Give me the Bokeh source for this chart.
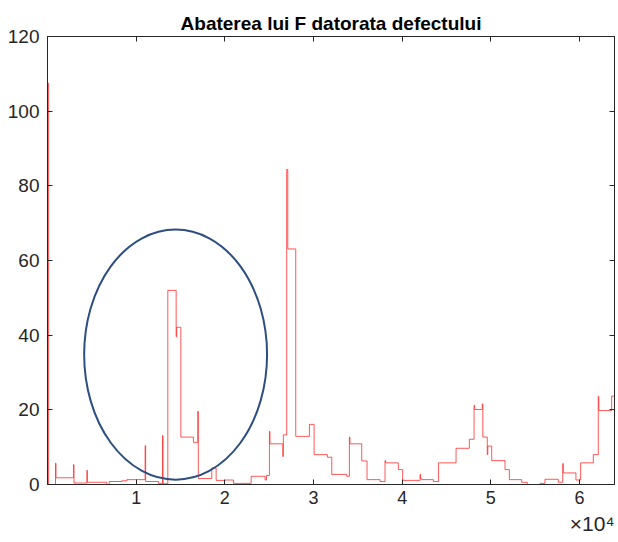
from bokeh.plotting import figure
from bokeh.models import Range1d, FixedTicker, LinearAxis, Title
from bokeh.embed import file_html
from bokeh.resources import INLINE

# step breakpoints (sample index) and value held from each breakpoint
x_breaks = [0, 120, 900, 960, 2930, 2990, 4440, 4500, 6700, 6960, 8390, 8950,
            11010, 11070, 12510, 12970, 13030, 13570, 14510, 14570, 15040, 16460,
            16950, 17010, 18530, 19020, 20060, 20970, 22970, 24540, 24700, 25030,
            25090, 26540, 26600, 26980, 27100, 28000, 29540, 30070, 31570, 32060,
            33750, 34050, 34110, 35440, 36040, 37510, 38070, 38130, 39570, 40060,
            42020, 42080, 42210, 43520, 44090, 46080, 47580, 48110, 48170, 49040,
            49100, 49600, 49660, 50100, 51600, 52090, 53480, 54110, 55550, 56110,
            57610, 58110, 58170, 59600, 60130, 61560, 62120, 62180, 63630]
f_values = [107.5, 0.0, 5.7, 1.8, 5.3, 0.4, 3.8, 0.6, 0.0, 0.8, 1.0, 1.3,
            10.4, 0.8, 0.3, 13.1, 0.2, 52.0, 39.6, 42.1, 12.7, 11.3,
            19.6, 1.6, 4.4, 1.1, 1.2, 0.3, 2.2, 1.2, 2.4, 14.2,
            10.9, 7.5, 13.3, 84.4, 63.1, 12.9, 16.1, 8.0, 7.3, 2.7,
            2.2, 12.7, 10.9, 6.3, 1.3, 0.8, 6.4, 5.8, 4.0, 1.1,
            2.7, 1.5, 1.3, 0.8, 5.8, 9.7, 12.1, 21.2, 20.1, 21.6,
            12.7, 8.0, 10.3, 6.4, 4.0, 1.3, 0.6, 0.0, 0.3, 1.4,
            0.6, 5.6, 3.1, 1.2, 5.8, 8.0, 23.6, 19.8, 23.7]
x_end = 63950

x_ticks = [10000, 20000, 30000, 40000, 50000, 60000]
x_tick_labels = ["1", "2", "3", "4", "5", "6"]
y_ticks = [0, 20, 40, 60, 80, 100, 120]

# highlighted region (ellipse annotation)
ell_x, ell_y, ell_w, ell_h = 14450, 34.8, 20630, 67.0

xs = x_breaks + [x_end]
ys = f_values + [f_values[-1]]

AX = "#262626"
FONT = "Liberation Sans"

p = figure(width=618, height=542, output_backend="svg", toolbar_location=None,
           x_range=Range1d(0, x_end), y_range=Range1d(0, 120),
           title="Abaterea lui F datorata defectului")
p.min_border_left = 47
p.min_border_right = 4
p.min_border_top = 36
p.min_border_bottom = 58
p.title.align = "center"
p.title.text_font = FONT
p.title.text_font_size = "19px"
p.title.text_font_style = "bold"
p.title.text_color = "#000000"
p.title.standoff = 5
p.grid.visible = False
p.outline_line_color = AX
p.background_fill_color = "white"
p.border_fill_color = "white"

def style(ax, labels=True):
    ax.axis_line_color = AX
    ax.major_tick_line_color = AX
    ax.major_tick_in = 5
    ax.major_tick_out = 0
    ax.minor_tick_line_color = None
    ax.major_label_text_font = FONT
    ax.major_label_text_color = AX
    ax.major_label_text_font_size = "18px"
    if not labels:
        ax.major_label_overrides = {t: "" for t in ax.ticker.ticks}
        ax.major_label_standoff = 0

p.xaxis.ticker = FixedTicker(ticks=x_ticks)
p.xaxis.major_label_overrides = {t: l for t, l in zip(x_ticks, x_tick_labels)}
p.xaxis.major_label_standoff = 6
style(p.xaxis[0])
p.yaxis.ticker = FixedTicker(ticks=y_ticks)
p.yaxis.major_label_standoff = 8
style(p.yaxis[0])
p.yaxis.major_label_text_font_size = "19px"

top = LinearAxis(ticker=FixedTicker(ticks=x_ticks))
style(top, labels=False)
p.add_layout(top, "above")
right = LinearAxis(ticker=FixedTicker(ticks=y_ticks))
style(right, labels=False)
p.add_layout(right, "right")

p.step(xs, ys, mode="after", line_color="#ff2020", line_alpha=0.75, line_width=1)

p.ellipse(x=[ell_x], y=[ell_y], width=[ell_w], height=[ell_h],
          fill_color=None, line_color="#2c4e80", line_width=2)

exp_title = Title(text="×10⁴", align="right", text_font=FONT,
                  text_font_size="21px", text_font_style="normal",
                  text_color=AX, standoff=6)
p.add_layout(exp_title, "below")

open("out.html", "w").write(file_html(p, INLINE))
